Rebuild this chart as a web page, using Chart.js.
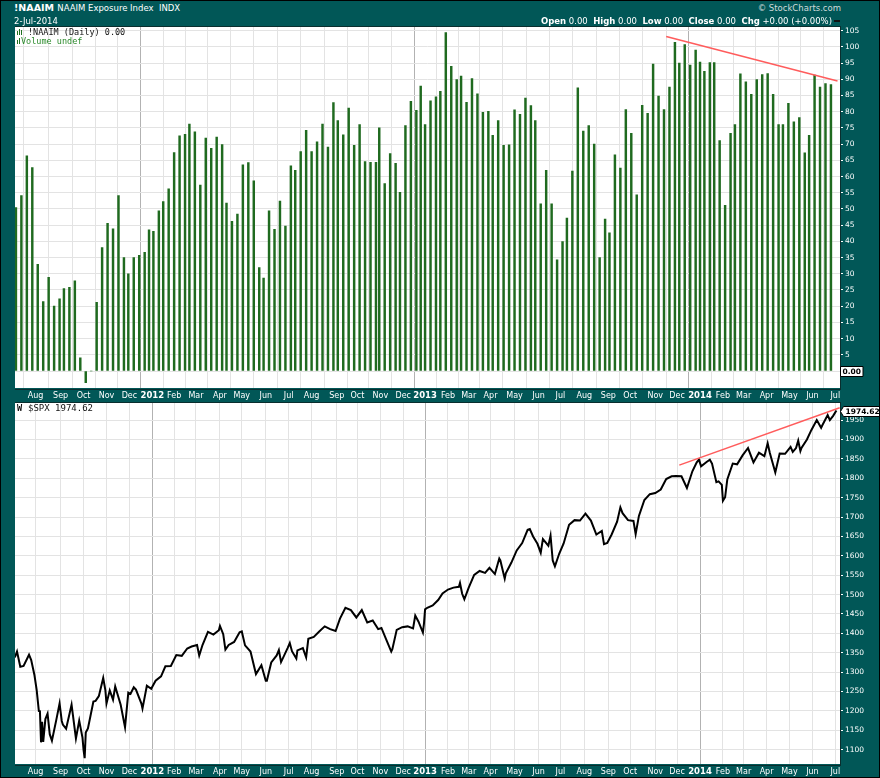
<!DOCTYPE html>
<html><head><meta charset="utf-8">
<script src="https://cdn.jsdelivr.net/npm/chart.js@4.4.1/dist/chart.umd.min.js"></script>
<style>
html,body{margin:0;padding:0;}
body{width:880px;height:778px;background:#015757;position:relative;overflow:hidden;font-family:"DejaVu Sans",Verdana,sans-serif;}
#frame{position:absolute;left:0;top:0;width:878px;height:776px;border:1px solid #000;pointer-events:none;z-index:5;}
.t{position:absolute;white-space:nowrap;color:#fff;line-height:1;z-index:3;}
.m{font-family:"DejaVu Sans Mono",monospace;color:#111;}
canvas{position:absolute;}
.ib{position:absolute;z-index:3;}
</style></head><body>
<div id="frame"></div>
<div class="t" style="left:14px;top:3px;font-size:9.5px;font-weight:bold">!NAAIM <span style="font-weight:normal;font-size:8.5px">NAAIM Exposure Index&nbsp; INDX</span></div>
<div class="t" style="left:14px;top:17px;font-size:8.5px">2-Jul-2014</div>
<div class="t" style="right:39px;top:4px;font-size:8.5px;color:#cfdada">© StockCharts.com</div>
<div class="t" style="right:48px;top:17px;font-size:8.5px"><b>Open</b> 0.00 &nbsp;<b>High</b> 0.00 &nbsp;<b>Low</b> 0.00 &nbsp;<b>Close</b> 0.00 &nbsp;<b>Chg</b> +0.00 (+0.00%)</div>
<div class="ib" style="left:834px;top:20px;width:6px;height:2px;background:#111"></div>

<canvas id="c1" width="865" height="380" style="left:15px;top:20px"></canvas>
<canvas id="c2" width="865" height="381" style="left:15px;top:396px"></canvas>

<div class="ib" style="left:17px;top:31px;width:1px;height:4px;background:#1f6f1f"></div>
<div class="ib" style="left:19px;top:29px;width:1px;height:6px;background:#1f6f1f"></div>
<div class="ib" style="left:21px;top:30px;width:1px;height:5px;background:#1f6f1f"></div>
<div class="t m" style="left:28px;top:28px;font-size:8.5px">!NAAIM (Daily) 0.00</div>
<div class="ib" style="left:17px;top:40px;width:1px;height:4px;background:#1f6f1f"></div>
<div class="ib" style="left:19px;top:38px;width:1px;height:6px;background:#1f6f1f"></div>
<div class="t m" style="left:21px;top:37px;font-size:8.5px;color:#2b8a2b">Volume undef</div>
<div class="t m" style="left:17px;top:404px;font-size:8.5px;font-weight:bold">W</div>
<div class="t m" style="left:28px;top:404px;font-size:9px">$SPX 1974.62</div>

<script>
// ---------- DATA ----------
const naaimDates = [
"2011-07-06","2011-07-13","2011-07-20","2011-07-27","2011-08-03","2011-08-10","2011-08-17","2011-08-24","2011-08-31",
"2011-09-07","2011-09-14","2011-09-21","2011-09-28","2011-10-05","2011-10-12","2011-10-19","2011-10-26",
"2011-11-02","2011-11-09","2011-11-16","2011-11-23","2011-11-30","2011-12-07","2011-12-14","2011-12-21","2011-12-28",
"2012-01-04","2012-01-11","2012-01-18","2012-01-25","2012-02-01","2012-02-08","2012-02-15","2012-02-22","2012-02-29",
"2012-03-07","2012-03-14","2012-03-21","2012-03-28","2012-04-04","2012-04-11","2012-04-18","2012-04-25",
"2012-05-02","2012-05-09","2012-05-16","2012-05-23","2012-05-30","2012-06-06","2012-06-13","2012-06-20","2012-06-27",
"2012-07-04","2012-07-11","2012-07-18","2012-07-25","2012-08-01","2012-08-08","2012-08-15","2012-08-22","2012-08-29",
"2012-09-05","2012-09-12","2012-09-19","2012-09-26","2012-10-03","2012-10-10","2012-10-17","2012-10-24","2012-10-31",
"2012-11-07","2012-11-14","2012-11-21","2012-11-28","2012-12-05","2012-12-12","2012-12-19","2012-12-26",
"2013-01-02","2013-01-09","2013-01-16","2013-01-23","2013-01-30","2013-02-06","2013-02-13","2013-02-20","2013-02-27",
"2013-03-06","2013-03-13","2013-03-20","2013-03-27","2013-04-03","2013-04-10","2013-04-17","2013-04-24",
"2013-05-01","2013-05-08","2013-05-15","2013-05-22","2013-05-29","2013-06-05","2013-06-12","2013-06-19","2013-06-26",
"2013-07-03","2013-07-10","2013-07-17","2013-07-24","2013-07-31","2013-08-07","2013-08-14","2013-08-21","2013-08-28",
"2013-09-04","2013-09-11","2013-09-18","2013-09-25","2013-10-02","2013-10-09","2013-10-16","2013-10-23","2013-10-30",
"2013-11-06","2013-11-13","2013-11-20","2013-11-27","2013-12-04","2013-12-11","2013-12-18","2013-12-25",
"2014-01-01","2014-01-08","2014-01-15","2014-01-22","2014-01-29","2014-02-05","2014-02-12","2014-02-19","2014-02-26",
"2014-03-05","2014-03-12","2014-03-19","2014-03-26","2014-04-02","2014-04-09","2014-04-16","2014-04-23","2014-04-30",
"2014-05-07","2014-05-14","2014-05-21","2014-05-28","2014-06-04","2014-06-11","2014-06-18","2014-06-25"];
const naaimValues = [
50.4,54.1,66.4,62.8,32.9,21.4,28.9,20.0,22.3,25.4,25.8,27.8,4.1,-3.6,0,21.2,38.1,45.6,43.9,54.1,35.0,30.0,35.0,35.7,36.6,43.6,
43.1,49.4,52.3,56.2,67.4,72.6,73.0,76.2,73.8,57.4,71.9,68.7,72.2,69.9,51.8,46.2,48.4,63.6,64.3,58.7,31.9,28.7,49.4,43.7,52.4,44.7,
63.3,61.9,67.7,74.3,67.7,70.7,76.2,69.1,82.8,77.3,72.9,81.1,69.6,76.0,64.6,64.4,64.4,75.0,57.8,67.1,64.1,55.1,75.7,83.2,80.4,87.9,
76.0,83.4,84.6,86.3,104.4,94.0,89.9,91.0,82.9,90.2,85.5,79.8,80.1,72.7,77.3,69.6,69.8,80.6,79.2,84.2,81.9,77.3,51.6,61.9,51.6,34.3,
39.9,47.2,61.7,87.4,74.0,75.7,70.0,35.0,46.9,42.6,66.7,62.6,80.7,73.3,54.4,82.0,79.5,94.7,84.8,80.7,87.6,101.4,95.0,100.7,94.4,99.0,
95.3,92.5,95.2,95.2,71.1,51.1,73.3,76.0,91.7,89.2,85.4,89.9,91.5,91.8,85.4,76.0,76.0,82.6,76.9,78.2,67.3,72.7,91.3,87.6,88.7,88.4];

const spxDates = [
"2011-07-05","2011-07-07","2011-07-12","2011-07-15","2011-07-22","2011-07-26","2011-07-29","2011-08-02","2011-08-04","2011-08-05",
"2011-08-08","2011-08-09","2011-08-10","2011-08-12","2011-08-16","2011-08-18","2011-08-22","2011-08-26","2011-08-31","2011-09-02",
"2011-09-06","2011-09-09","2011-09-16","2011-09-22","2011-09-27","2011-09-30","2011-10-03","2011-10-04","2011-10-05","2011-10-07",
"2011-10-14","2011-10-18","2011-10-21","2011-10-27","2011-10-31","2011-11-01","2011-11-04","2011-11-09","2011-11-11","2011-11-18",
"2011-11-25","2011-11-30","2011-12-02","2011-12-07","2011-12-09","2011-12-16","2011-12-19","2011-12-23","2011-12-30",
"2012-01-06","2012-01-13","2012-01-20","2012-01-27","2012-02-03","2012-02-10","2012-02-17","2012-02-24","2012-03-02","2012-03-06",
"2012-03-09","2012-03-16","2012-03-23","2012-03-30","2012-04-02","2012-04-05","2012-04-10","2012-04-13","2012-04-20","2012-04-27",
"2012-05-01","2012-05-04","2012-05-11","2012-05-18","2012-05-25","2012-06-01","2012-06-04","2012-06-08","2012-06-15","2012-06-19",
"2012-06-21","2012-06-29","2012-07-03","2012-07-06","2012-07-12","2012-07-13","2012-07-20","2012-07-25","2012-07-27","2012-08-03",
"2012-08-10","2012-08-17","2012-08-24","2012-08-31","2012-09-07","2012-09-14","2012-09-21","2012-09-28","2012-10-05","2012-10-12",
"2012-10-19","2012-10-26","2012-11-02","2012-11-09","2012-11-15","2012-11-16","2012-11-23","2012-11-30","2012-12-07","2012-12-14",
"2012-12-18","2012-12-21","2012-12-28","2012-12-31",
"2013-01-02","2013-01-04","2013-01-11","2013-01-18","2013-01-25","2013-02-01","2013-02-08","2013-02-15","2013-02-19","2013-02-21",
"2013-02-25","2013-03-01","2013-03-08","2013-03-15","2013-03-22","2013-03-28","2013-04-05","2013-04-11","2013-04-12","2013-04-18",
"2013-04-19","2013-04-26","2013-05-03","2013-05-10","2013-05-17","2013-05-21","2013-05-24","2013-05-31","2013-06-05","2013-06-07",
"2013-06-14","2013-06-18","2013-06-20","2013-06-24","2013-06-28","2013-07-05","2013-07-12","2013-07-19","2013-07-26","2013-08-02",
"2013-08-09","2013-08-16","2013-08-23","2013-08-27","2013-08-30","2013-09-06","2013-09-13","2013-09-18","2013-09-20","2013-09-27",
"2013-10-04","2013-10-08","2013-10-11","2013-10-18","2013-10-25","2013-11-01","2013-11-08","2013-11-15","2013-11-22","2013-11-29",
"2013-12-06","2013-12-13","2013-12-20","2013-12-27","2013-12-31",
"2014-01-03","2014-01-10","2014-01-15","2014-01-17","2014-01-24","2014-01-28","2014-01-31","2014-02-03","2014-02-05","2014-02-07",
"2014-02-14","2014-02-21","2014-02-28","2014-03-07","2014-03-14","2014-03-21","2014-03-28","2014-04-02","2014-04-04","2014-04-11",
"2014-04-17","2014-04-25","2014-05-02","2014-05-06","2014-05-09","2014-05-13","2014-05-15","2014-05-16","2014-05-23","2014-05-30",
"2014-06-06","2014-06-12","2014-06-13","2014-06-20","2014-06-24","2014-06-27","2014-07-02"];
const spxValues = [
1338,1353,1314,1316,1345,1331,1292,1254,1200,1199,
1119,1172,1120,1179,1193,1140,1123,1177,1219,1174,
1165,1154,1216,1129,1175,1131,1099,1078,1144,1155,
1224,1226,1238,1285,1253,1219,1253,1229,1263,1216,
1158,1247,1244,1261,1255,1219,1206,1265,1257,
1278,1289,1315,1316,1344,1342,1361,1366,1370,1343,
1370,1404,1397,1408,1419,1398,1358,1370,1378,1403,
1405,1369,1353,1295,1318,1278,1278,1325,1343,1357,
1326,1362,1375,1354,1335,1356,1362,1338,1386,1391,
1405,1418,1411,1406,1438,1466,1460,1441,1460,1428,
1433,1411,1414,1380,1353,1359,1409,1416,1418,1413,
1446,1430,1402,1426,
1462,1466,1472,1486,1503,1513,1518,1520,1530,1502,
1488,1518,1551,1561,1556,1569,1553,1593,1588,1541,
1555,1582,1614,1633,1667,1669,1650,1631,1608,1643,
1626,1652,1588,1573,1606,1632,1680,1692,1691,1709,
1691,1655,1664,1630,1633,1655,1688,1725,1710,1692,
1690,1656,1703,1744,1759,1762,1771,1798,1805,1806,
1805,1775,1818,1841,1848,
1831,1842,1848,1838,1790,1792,1783,1742,1751,1797,
1838,1836,1859,1878,1841,1866,1857,1890,1865,1815,
1864,1863,1881,1868,1878,1897,1870,1878,1900,1924,
1950,1930,1936,1963,1950,1961,1975];

const naaimTrendDates = ["2013-11-15","2014-07-03"];
const naaimTrendValues = [103.2, 89.5];
const spxTrendDates = ["2013-12-04","2014-07-08"];
const spxTrendValues = [1834, 1982];

const monthTickDates = ["2011-08-01","2011-09-01","2011-10-01","2011-11-01","2011-12-01",
"2012-01-01","2012-02-01","2012-03-01","2012-04-01","2012-05-01","2012-06-01","2012-07-01","2012-08-01","2012-09-01","2012-10-01","2012-11-01","2012-12-01",
"2013-01-01","2013-02-01","2013-03-01","2013-04-01","2013-05-01","2013-06-01","2013-07-01","2013-08-01","2013-09-01","2013-10-01","2013-11-01","2013-12-01",
"2014-01-01","2014-02-01","2014-03-01","2014-04-01","2014-05-01","2014-06-01","2014-07-01"];
const monthTickLabels = ["Aug","Sep","Oct","Nov","Dec",
"2012","Feb","Mar","Apr","May","Jun","Jul","Aug","Sep","Oct","Nov","Dec",
"2013","Feb","Mar","Apr","May","Jun","Jul","Aug","Sep","Oct","Nov","Dec",
"2014","Feb","Mar","Apr","May","Jun","Jul"];
const naaimTicks = [0,5,10,15,20,25,30,35,40,45,50,55,60,65,70,75,80,85,90,95,100,105];
const spxTicks = [1100,1150,1200,1250,1300,1350,1400,1450,1500,1550,1600,1650,1700,1750,1800,1850,1900,1950];

const holidays = ["2011-07-04","2011-09-05","2011-11-24","2011-12-26","2012-01-02","2012-01-16","2012-02-20","2012-04-06",
"2012-05-28","2012-07-04","2012-09-03","2012-10-29","2012-10-30","2012-11-22","2012-12-25","2013-01-01","2013-01-21",
"2013-02-18","2013-03-29","2013-05-27","2013-07-04","2013-09-02","2013-11-28","2013-12-25","2014-01-01","2014-01-20",
"2014-02-17","2014-04-18","2014-05-26","2014-07-04"];

// ---------- trading-day x scale ----------
const tdIndex = {};
(function(){
  const hol = new Set(holidays); let n = 0;
  for (let d = Date.UTC(2011,6,1); d <= Date.UTC(2014,6,31); d += 86400000) {
    const dt = new Date(d), wd = dt.getUTCDay(), s = dt.toISOString().slice(0,10);
    if (wd === 0 || wd === 6 || hol.has(s)) continue;
    tdIndex[s] = n++;
  }
})();
function xOf(s){
  const d = Date.parse(s + "T00:00:00Z");
  for (let k = 0; k < 10; k++){ const key = new Date(d + k*86400000).toISOString().slice(0,10); if (key in tdIndex) return tdIndex[key]; }
  return null;
}
const anchor = xOf("2012-01-03");
const X_MIN = anchor - 125.85, X_MAX = anchor + 630.3;
const monthTickX = monthTickDates.map(xOf);

Chart.defaults.font.family = '"DejaVu Sans", Verdana, sans-serif';

const panelPlugin = {
  id: 'panel',
  beforeDraw(chart){
    const {ctx, chartArea:a} = chart;
    ctx.save(); ctx.fillStyle = '#ffffff'; ctx.fillRect(a.left, a.top, a.width, a.height); ctx.restore();
  },
  afterDraw(chart, args, o){
    const {ctx, chartArea:a} = chart;
    ctx.save();
    ctx.strokeStyle = '#0a2e2e'; ctx.lineWidth = 1;
    ctx.strokeRect(Math.round(a.left) - 0.5, Math.round(a.top) - 0.5, Math.round(a.width) + 1, Math.round(a.height) + 1);
    if (o && o.text){
      const y = Math.round(chart.scales.y.getPixelForValue(o.value)) + 0.5;
      ctx.font = 'bold 7.5px "DejaVu Sans"';
      const tw = ctx.measureText(o.text).width;
      const h = 10, x0 = a.right + (o.arrow ? 3.5 : 0.5);
      ctx.beginPath();
      if (o.arrow){ ctx.moveTo(a.right + 0.5, y); ctx.lineTo(x0, y - h/2); } else { ctx.moveTo(x0, y - h/2); }
      ctx.lineTo(x0 + tw + 4, y - h/2); ctx.lineTo(x0 + tw + 4, y + h/2); ctx.lineTo(x0, y + h/2);
      ctx.closePath();
      ctx.fillStyle = '#fff'; ctx.fill(); ctx.strokeStyle = '#000'; ctx.stroke();
      ctx.fillStyle = '#000'; ctx.textBaseline = 'middle'; ctx.textAlign = 'left';
      ctx.fillText(o.text, x0 + 2, y + 0.5);
    }
    ctx.restore();
  }
};

function xScale(h, pad){
  return {
    type: 'linear', min: X_MIN, max: X_MAX, offset: false,
    afterBuildTicks: s => { s.ticks = monthTickX.map(v => ({value: v})); },
    afterFit: s => { s.height = h; },
    ticks: { autoSkip: false, maxRotation: 0, minRotation: 0, padding: pad, color: '#ffffff',
      font: c => ({ size: /^\d{4}$/.test(monthTickLabels[c.index]) ? 8.5 : 8, weight: /^\d{4}$/.test(monthTickLabels[c.index]) ? 'bold' : 'normal' }),
      callback: (v, i) => monthTickLabels[i] },
    grid: { drawTicks: false, lineWidth: 1,
      color: c => (c.index !== undefined && /^\d{4}$/.test(monthTickLabels[c.index])) ? '#b2b2b2' : '#e3e3e3' },
    border: { display: false }
  };
}
function yScale(min, max, ticks, showZero){
  return {
    position: 'right', min: min, max: max,
    afterBuildTicks: s => { s.ticks = ticks.map(v => ({value: v})); },
    afterFit: s => { s.width = 40; },
    ticks: { color: '#ffffff', padding: 2, font: { size: 7.5 }, callback: v => (v === 0 && !showZero) ? '' : String(v) },
    grid: { color: '#e3e3e3', drawTicks: true, tickLength: 3, tickColor: '#ffffff', lineWidth: 1 },
    border: { display: false }
  };
}

const baseOpts = {
  responsive: false, animation: false, devicePixelRatio: 1, events: [],
  layout: { padding: { top: 6, left: 0, right: 0, bottom: 0 } }
};

new Chart(document.getElementById('c1'), {
  type: 'bar',
  data: { datasets: [
    { type: 'line', data: naaimTrendDates.map((d,i) => ({x: xOf(d), y: naaimTrendValues[i]})),
      borderColor: '#ff5c5c', borderWidth: 1.5, pointRadius: 0, order: 0 },
    { type: 'bar', data: naaimDates.map((d,i) => ({x: xOf(d), y: naaimValues[i]})),
      backgroundColor: '#1f6a1f', barThickness: 1.8, order: 1 }
  ]},
  options: Object.assign({}, baseOpts, {
    plugins: { legend: {display: false}, tooltip: {enabled: false}, panel: { value: 0, text: '0.00', arrow: false } },
    scales: { x: xScale(12, 3), y: yScale(-5.24, 106.3, naaimTicks, false) }
  }),
  plugins: [panelPlugin]
});

new Chart(document.getElementById('c2'), {
  type: 'line',
  data: { datasets: [
    { data: spxTrendDates.map((d,i) => ({x: xOf(d), y: spxTrendValues[i]})),
      borderColor: '#ff5c5c', borderWidth: 1.5, pointRadius: 0, order: 0 },
    { data: spxDates.map((d,i) => ({x: xOf(d), y: spxValues[i]})),
      borderColor: '#000000', borderWidth: 2, pointRadius: 0, tension: 0, order: 1 }
  ]},
  options: Object.assign({}, baseOpts, {
    plugins: { legend: {display: false}, tooltip: {enabled: false}, panel: { value: 1974.62, text: '1974.62', arrow: true } },
    scales: { x: xScale(13, 3), y: yScale(1063.1, 1995.4, spxTicks, true) }
  }),
  plugins: [panelPlugin]
});
</script>
</body></html>
